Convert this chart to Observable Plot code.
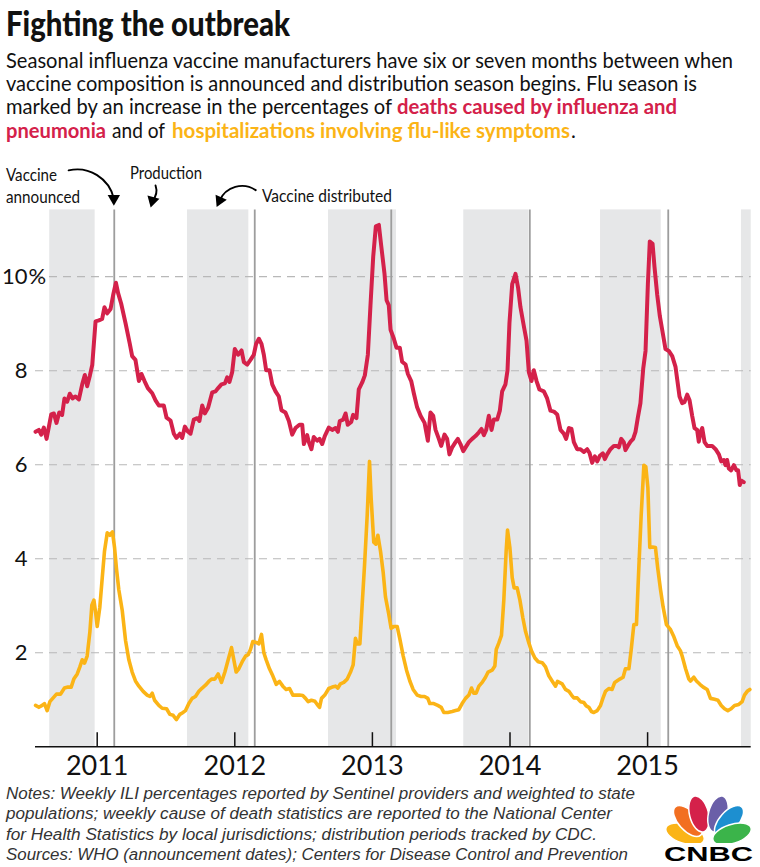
<!DOCTYPE html>
<html><head><meta charset="utf-8">
<script src="https://cdn.jsdelivr.net/npm/d3@7"></script>
<script src="https://cdn.jsdelivr.net/npm/@observablehq/plot@0.6"></script>
<style>
body{margin:0;background:#fff;}
#wrap{position:relative;width:760px;height:867px;overflow:hidden;}
.abs{position:absolute;left:0;top:0;}
#chart{top:160px;}
.t{font-family:Lato,"Noto Sans",sans-serif;fill:#111;}
.n{font-family:"Liberation Sans",Arial,sans-serif;font-style:italic;fill:#333;font-size:15.8px;}
.red{fill:#d4214a;font-weight:bold}
.yel{fill:#fbb416;font-weight:bold}
</style></head><body><div id="wrap">
<svg class="abs" width="760" height="867" viewBox="0 0 760 867">
  <text class="t" x="6" y="36" font-size="34" font-weight="900" textLength="284" lengthAdjust="spacingAndGlyphs">Fighting the outbreak</text>
  <text class="t" x="6" y="67.7" font-size="20.5" textLength="727" lengthAdjust="spacingAndGlyphs">Seasonal influenza vaccine manufacturers have six or seven months between when</text>
  <text class="t" x="6" y="91" font-size="20.5" textLength="691" lengthAdjust="spacingAndGlyphs">vaccine composition is announced and distribution season begins. Flu season is</text>
  <text class="t" x="6" y="114.3" font-size="20.5" textLength="386" lengthAdjust="spacingAndGlyphs">marked by an increase in the percentages of</text>
  <text class="t red" x="397" y="114.3" font-size="20.5" textLength="280" lengthAdjust="spacingAndGlyphs">deaths caused by influenza and</text>
  <text class="t red" x="6" y="138.3" font-size="20.5" textLength="100" lengthAdjust="spacingAndGlyphs">pneumonia</text>
  <text class="t" x="112" y="138.3" font-size="20.5" textLength="53" lengthAdjust="spacingAndGlyphs">and of</text>
  <text class="t yel" x="172" y="138.3" font-size="20.5" textLength="398" lengthAdjust="spacingAndGlyphs">hospitalizations involving flu-like symptoms</text>
  <text class="t" x="571" y="138.3" font-size="20.5">.</text>
  <text class="t" x="6" y="181" font-size="18" textLength="51" lengthAdjust="spacingAndGlyphs">Vaccine</text>
  <text class="t" x="6" y="203.3" font-size="18" textLength="74" lengthAdjust="spacingAndGlyphs">announced</text>
  <text class="t" x="130" y="179" font-size="18" textLength="72" lengthAdjust="spacingAndGlyphs">Production</text>
  <text class="t" x="262" y="202.3" font-size="18" textLength="130" lengthAdjust="spacingAndGlyphs">Vaccine distributed</text>
  <text class="n" x="6" y="799" textLength="629" lengthAdjust="spacingAndGlyphs">Notes: Weekly ILI percentages reported by Sentinel providers and weighted to state</text>
  <text class="n" x="6" y="819.3" textLength="606" lengthAdjust="spacingAndGlyphs">populations; weekly cause of death statistics are reported to the National Center</text>
  <text class="n" x="6" y="839.6" textLength="591" lengthAdjust="spacingAndGlyphs">for Health Statistics by local jurisdictions; distribution periods tracked by CDC.</text>
  <text class="n" x="6" y="860" textLength="622" lengthAdjust="spacingAndGlyphs">Sources: WHO (announcement dates); Centers for Disease Control and Prevention</text>
  <g transform="translate(663,795)">
    <g stroke="#fff" stroke-width="1.5">
      <ellipse cx="22" cy="39" rx="9.5" ry="20" transform="rotate(-72 22 39)" fill="#fbb416"/>
      <ellipse cx="25" cy="26" rx="9.5" ry="19" transform="rotate(-42 25 26)" fill="#f26f21"/>
      <ellipse cx="36" cy="19" rx="9.5" ry="18.5" transform="rotate(-14 36 19)" fill="#d4214a"/>
      <ellipse cx="55" cy="19" rx="9.5" ry="18.5" transform="rotate(14 55 19)" fill="#6a5fa8"/>
      <ellipse cx="66" cy="26" rx="9.5" ry="19" transform="rotate(42 66 26)" fill="#1d8fd0"/>
      <ellipse cx="69" cy="39" rx="9.5" ry="20" transform="rotate(72 69 39)" fill="#3bb44a"/>
    </g>
    <rect x="0" y="48" width="92" height="4" fill="#fff"/>
    <text x="1" y="66" textLength="89" lengthAdjust="spacingAndGlyphs" font-family="Liberation Sans, Arial, sans-serif" font-weight="bold" font-size="21" fill="#000">CNBC</text>
  </g>
</svg>
<div id="chart" class="abs"></div>
</div>
<script>
// Weekly deaths from pneumonia & influenza (% of all deaths), [decimal year, %]
const deaths = [[2010.552,6.70],[2010.576,6.74],[2010.593,6.64],[2010.612,6.79],[2010.632,6.55],[2010.666,7.07],[2010.685,7.09],[2010.704,6.89],[2010.724,7.11],[2010.745,7.06],[2010.762,7.41],[2010.782,7.34],[2010.801,7.51],[2010.821,7.41],[2010.842,7.45],[2010.867,7.39],[2010.891,7.71],[2010.910,7.91],[2010.927,7.67],[2010.947,7.90],[2010.964,8.12],[2010.988,9.05],[2011.012,9.07],[2011.036,9.10],[2011.053,9.35],[2011.073,9.22],[2011.097,9.31],[2011.116,9.61],[2011.136,9.87],[2011.152,9.65],[2011.174,9.43],[2011.206,9.01],[2011.237,8.57],[2011.254,8.31],[2011.278,8.23],[2011.303,7.78],[2011.322,7.93],[2011.344,7.78],[2011.368,7.63],[2011.400,7.52],[2011.424,7.37],[2011.448,7.26],[2011.484,7.26],[2011.504,7.00],[2011.533,6.94],[2011.557,6.66],[2011.576,6.57],[2011.601,6.66],
[2011.618,6.57],[2011.637,6.81],[2011.661,6.70],[2011.678,6.66],[2011.702,6.96],[2011.727,6.99],[2011.743,6.93],[2011.763,7.26],[2011.782,7.09],[2011.806,7.21],[2011.836,7.54],[2011.860,7.56],[2011.879,7.63],[2011.903,7.71],[2011.928,7.73],[2011.945,7.86],[2011.961,7.76],[2011.981,7.97],[2012.000,8.46],[2012.024,8.34],[2012.049,8.43],[2012.066,8.18],[2012.090,8.13],[2012.114,8.23],[2012.138,8.34],[2012.155,8.57],[2012.175,8.68],[2012.194,8.57],[2012.211,8.34],[2012.228,8.01],[2012.252,8.01],[2012.272,7.71],[2012.296,7.56],[2012.320,7.45],[2012.339,7.16],[2012.368,7.11],[2012.393,6.93],[2012.417,6.64],[2012.441,6.78],[2012.470,6.85],[2012.490,6.85],[2012.502,6.44],[2012.526,6.63],[2012.538,6.48],[2012.557,6.33],[2012.574,6.59],[2012.599,6.51],[2012.616,6.55],[2012.635,6.44],[2012.654,6.61],
[2012.683,6.79],[2012.708,6.74],[2012.732,6.78],[2012.749,6.70],[2012.763,6.93],[2012.788,6.96],[2012.805,7.09],[2012.821,6.85],[2012.846,6.91],[2012.860,7.06],[2012.884,6.99],[2012.901,7.60],[2012.926,7.75],[2012.945,7.90],[2012.967,8.34],[2012.986,9.39],[2013.006,10.43],[2013.025,11.07],[2013.047,11.10],[2013.064,10.66],[2013.088,10.06],[2013.103,9.50],[2013.119,9.39],[2013.132,8.87],[2013.156,8.68],[2013.175,8.49],[2013.199,8.49],[2013.216,8.19],[2013.241,8.13],[2013.258,7.93],[2013.282,7.78],[2013.301,7.52],[2013.325,7.22],[2013.350,7.04],[2013.379,6.89],[2013.403,6.51],[2013.422,7.11],[2013.442,7.04],[2013.459,6.74],[2013.483,6.55],[2013.500,6.40],[2013.524,6.64],[2013.543,6.55],[2013.560,6.22],[2013.580,6.37],[2013.604,6.48],[2013.621,6.55],[2013.640,6.44],[2013.660,6.29],[2013.677,6.37],[2013.701,6.48],
[2013.725,6.55],[2013.749,6.61],[2013.774,6.69],[2013.793,6.76],[2013.810,6.63],[2013.827,6.74],[2013.846,7.04],[2013.866,6.74],[2013.882,6.96],[2013.907,6.96],[2013.926,7.15],[2013.943,7.56],[2013.967,7.71],[2013.982,8.01],[2013.996,9.01],[2014.016,9.84],[2014.040,10.06],[2014.059,9.76],[2014.076,9.35],[2014.101,8.94],[2014.120,8.64],[2014.137,7.97],[2014.156,7.78],[2014.173,8.01],[2014.193,7.78],[2014.214,7.60],[2014.246,7.56],[2014.270,7.41],[2014.294,7.15],[2014.319,7.13],[2014.343,7.07],[2014.367,6.74],[2014.391,6.66],[2014.408,6.55],[2014.428,6.78],[2014.447,6.76],[2014.464,6.48],[2014.488,6.33],[2014.512,6.33],[2014.537,6.27],[2014.561,6.33],[2014.578,6.25],[2014.597,6.04],[2014.617,6.18],[2014.634,6.07],[2014.653,6.19],[2014.675,6.24],[2014.689,6.12],[2014.706,6.22],[2014.730,6.33],[2014.755,6.40],
[2014.774,6.40],[2014.791,6.37],[2014.808,6.55],[2014.827,6.48],[2014.839,6.31],[2014.856,6.40],[2014.876,6.49],[2014.895,6.55],[2014.912,6.70],[2014.929,7.00],[2014.948,7.31],[2014.968,8.04],[2014.985,8.42],[2015.002,9.84],[2015.016,10.75],[2015.036,10.70],[2015.050,10.21],[2015.070,9.61],[2015.089,9.16],[2015.106,8.87],[2015.130,8.46],[2015.154,8.42],[2015.179,8.31],[2015.203,8.08],[2015.215,7.82],[2015.232,7.45],[2015.251,7.31],[2015.268,7.33],[2015.288,7.49],[2015.305,7.37],[2015.324,7.04],[2015.341,6.78],[2015.360,6.74],[2015.372,6.49],[2015.385,6.70],[2015.397,6.78],[2015.414,6.48],[2015.433,6.40],[2015.469,6.40],[2015.494,6.33],[2015.518,6.22],[2015.535,6.07],[2015.554,6.10],[2015.566,5.99],[2015.578,6.10],[2015.590,5.92],[2015.607,5.88],[2015.627,5.99],[2015.646,5.88],[2015.658,5.88],[2015.670,5.57],[2015.682,5.66],[2015.699,5.63]];

// Weekly influenza-like-illness visits (%), [decimal year, %]
const ili = [[2010.552,0.88],[2010.576,0.84],[2010.600,0.88],[2010.617,0.92],[2010.636,0.77],[2010.656,0.96],[2010.680,1.04],[2010.704,1.12],[2010.733,1.12],[2010.762,1.25],[2010.787,1.27],[2010.811,1.27],[2010.830,1.44],[2010.855,1.55],[2010.874,1.70],[2010.891,1.85],[2010.908,1.78],[2010.927,1.93],[2010.947,2.45],[2010.961,3.01],[2010.976,3.12],[2010.990,2.82],[2011.000,2.56],[2011.019,2.97],[2011.036,3.57],[2011.053,4.16],[2011.073,4.55],[2011.092,4.50],[2011.111,4.57],[2011.126,4.24],[2011.140,3.79],[2011.157,3.34],[2011.182,2.90],[2011.206,2.26],[2011.230,1.85],[2011.254,1.59],[2011.278,1.40],[2011.303,1.29],[2011.334,1.18],[2011.363,1.10],[2011.383,1.07],[2011.400,1.14],[2011.417,0.99],[2011.448,0.88],[2011.472,0.82],[2011.504,0.81],[2011.528,0.69],[2011.552,0.67],[2011.576,0.58],[2011.601,0.69],
[2011.618,0.72],[2011.642,0.77],[2011.666,0.92],[2011.690,1.03],[2011.714,1.07],[2011.739,1.18],[2011.763,1.25],[2011.787,1.31],[2011.811,1.39],[2011.831,1.44],[2011.855,1.44],[2011.879,1.55],[2011.903,1.37],[2011.928,1.59],[2011.952,1.85],[2011.976,2.11],[2011.993,1.85],[2012.010,1.59],[2012.029,1.66],[2012.054,1.81],[2012.078,1.93],[2012.097,1.96],[2012.114,2.07],[2012.131,2.24],[2012.155,2.22],[2012.175,2.19],[2012.194,2.39],[2012.211,2.00],[2012.228,1.85],[2012.252,1.66],[2012.276,1.51],[2012.301,1.33],[2012.325,1.39],[2012.349,1.29],[2012.373,1.22],[2012.398,1.24],[2012.422,1.10],[2012.446,1.10],[2012.470,1.10],[2012.494,1.09],[2012.514,1.03],[2012.533,0.96],[2012.557,0.99],[2012.582,0.97],[2012.599,0.90],[2012.616,0.84],[2012.630,1.03],[2012.654,1.10],
[2012.683,1.24],[2012.708,1.27],[2012.732,1.29],[2012.749,1.25],[2012.768,1.34],[2012.792,1.37],[2012.817,1.44],[2012.841,1.59],[2012.860,1.74],[2012.877,2.31],[2012.889,2.19],[2012.909,2.19],[2012.926,3.04],[2012.943,3.87],[2012.962,4.91],[2012.979,6.07],[2012.991,5.28],[2013.010,4.35],[2013.025,4.31],[2013.040,4.50],[2013.059,4.16],[2013.078,3.72],[2013.095,3.19],[2013.119,2.82],[2013.136,2.52],[2013.156,2.56],[2013.180,2.56],[2013.199,2.30],[2013.224,1.93],[2013.248,1.63],[2013.272,1.40],[2013.296,1.22],[2013.325,1.10],[2013.354,1.07],[2013.379,1.07],[2013.403,1.03],[2013.417,0.92],[2013.446,0.92],[2013.475,0.88],[2013.500,0.84],[2013.519,0.73],[2013.548,0.73],[2013.580,0.75],[2013.604,0.77],[2013.628,0.79],[2013.652,0.92],[2013.677,1.03],[2013.701,1.10],
[2013.720,1.25],[2013.737,1.14],[2013.754,1.14],[2013.774,1.29],[2013.798,1.37],[2013.822,1.48],[2013.841,1.59],[2013.870,1.63],[2013.890,1.72],[2013.900,2.07],[2013.919,2.21],[2013.938,2.37],[2013.955,3.12],[2013.972,4.16],[2013.982,4.61],[2013.999,4.24],[2014.016,3.60],[2014.030,3.38],[2014.052,3.38],[2014.072,3.12],[2014.093,2.75],[2014.113,2.45],[2014.137,2.21],[2014.156,2.04],[2014.181,1.89],[2014.205,1.81],[2014.234,1.79],[2014.258,1.70],[2014.282,1.51],[2014.306,1.40],[2014.331,1.29],[2014.345,1.39],[2014.379,1.34],[2014.403,1.22],[2014.428,1.18],[2014.447,1.10],[2014.464,1.04],[2014.488,1.04],[2014.512,0.96],[2014.537,0.94],[2014.554,0.87],[2014.573,0.84],[2014.592,0.75],[2014.609,0.73],[2014.634,0.77],[2014.658,0.88],[2014.675,1.03],[2014.694,1.18],[2014.718,1.24],[2014.742,1.22],[2014.761,1.37],
[2014.798,1.44],[2014.822,1.48],[2014.839,1.66],[2014.864,1.66],[2014.881,2.07],[2014.900,2.60],[2014.919,2.60],[2014.936,3.79],[2014.953,4.91],[2014.973,5.99],[2014.987,5.96],[2015.002,5.51],[2015.016,4.24],[2015.036,4.25],[2015.057,4.24],[2015.074,3.79],[2015.094,3.34],[2015.113,2.97],[2015.137,2.60],[2015.167,2.49],[2015.191,2.34],[2015.215,2.15],[2015.239,2.04],[2015.251,1.93],[2015.276,1.66],[2015.300,1.44],[2015.312,1.40],[2015.336,1.48],[2015.355,1.40],[2015.380,1.33],[2015.404,1.27],[2015.433,1.22],[2015.457,1.03],[2015.487,1.01],[2015.511,0.99],[2015.535,0.88],[2015.559,0.81],[2015.583,0.77],[2015.607,0.81],[2015.632,0.88],[2015.663,0.90],[2015.687,0.96],[2015.704,1.10],[2015.724,1.18],[2015.743,1.22]];

// Vaccine distribution periods [start, end] (decimal years)
const distribution = [[2010.655,2010.985],[2011.656,2012.102],[2012.681,2013.175],[2013.664,2014.137],[2014.658,2015.099],[2015.682,2015.753]];
// Vaccine composition announcement dates (decimal years)
const announced = [2011.124,2012.145,2013.137,2014.144,2015.150];
const yearTicks = [2011,2012,2013,2014,2015];
const yTicks = [2,4,6,8,10];
const xDomain = [2010.5516,2015.7529];
const yDomain = [0,11.42];
// annotation arrows: [x1, y1, x2, y2, bend, head direction in degrees]
const arrows = [[2010.792,12.26,2011.121,11.66,45,180],[2011.424,11.94,2011.402,11.62,30,195],[2012.152,11.84,2011.890,11.62,-50,205]];

const FONT = 'Lato,"Noto Sans",sans-serif';
const chart = Plot.plot({
  width:760, height:622,
  marginLeft:35, marginRight:9.3, marginTop:49.4, marginBottom:35.7,
  x:{domain:xDomain, axis:null},
  y:{domain:yDomain, axis:null},
  style:{fontFamily:FONT, background:"transparent", color:"#111"},
  marks:[
    Plot.rect(distribution,{x1:d=>d[0],x2:d=>d[1],fill:"#e6e7e8"}),
    Plot.ruleY(yTicks,{stroke:"#b8b8b8",strokeWidth:1.1,strokeDasharray:"8,6"}),
    Plot.ruleX(announced,{stroke:"#9d9d9d",strokeWidth:1.8}),
    Plot.line(deaths,{x:d=>d[0],y:d=>d[1],stroke:"#d4214a",strokeWidth:4,strokeLinejoin:"round",strokeLinecap:"round"}),
    Plot.line(ili,{x:d=>d[0],y:d=>d[1],stroke:"#fbb416",strokeWidth:3.6,strokeLinejoin:"round",strokeLinecap:"round"}),
    Plot.ruleY([0],{stroke:"#111",strokeWidth:1.5}),
    Plot.ruleX(yearTicks,{y1:0,y2:0.3,stroke:"#111",strokeWidth:1.5}),
    Plot.text(yearTicks,{x:d=>d,frameAnchor:"bottom",lineAnchor:"top",dy:9,text:d=>String(d),fontSize:27,fill:"#111",ariaLabel:"year-labels"}),
    Plot.text(yTicks,{y:d=>d,frameAnchor:"left",dx:-8,textAnchor:"end",text:d=>String(d),fontSize:22,fill:"#111",ariaLabel:"y-labels"}),
    Plot.text([10],{y:d=>d,frameAnchor:"left",dx:-7,textAnchor:"start",text:()=>"%",fontSize:22,fill:"#111",ariaLabel:"y-pct"}),
    ...arrows.map(a=>Plot.arrow([a],{x1:d=>d[0],y1:d=>d[1],x2:d=>d[2],y2:d=>d[3],bend:a[4],stroke:"#000",strokeWidth:1.9,headLength:0})),
    Plot.dot(arrows,{x:d=>d[2],y:d=>d[3],symbol:"triangle",r:4.6,fill:"#000",stroke:"none",rotate:d=>d[5]})
  ]
});
// narrow the label glyphs to match the condensed face of the original
d3.select(chart).selectAll('g[aria-label="year-labels"] text').attr("textLength",44).attr("lengthAdjust","spacingAndGlyphs");
d3.select(chart).selectAll('g[aria-label="y-labels"] text').each(function(){
  const s = this.textContent; d3.select(this).attr("textLength", s.length===1 ? 10 : 21).attr("lengthAdjust","spacingAndGlyphs");
});
d3.select(chart).selectAll('g[aria-label="y-pct"] text').attr("textLength",16).attr("lengthAdjust","spacingAndGlyphs");
document.getElementById("chart").appendChild(chart);
</script>
</body></html>
